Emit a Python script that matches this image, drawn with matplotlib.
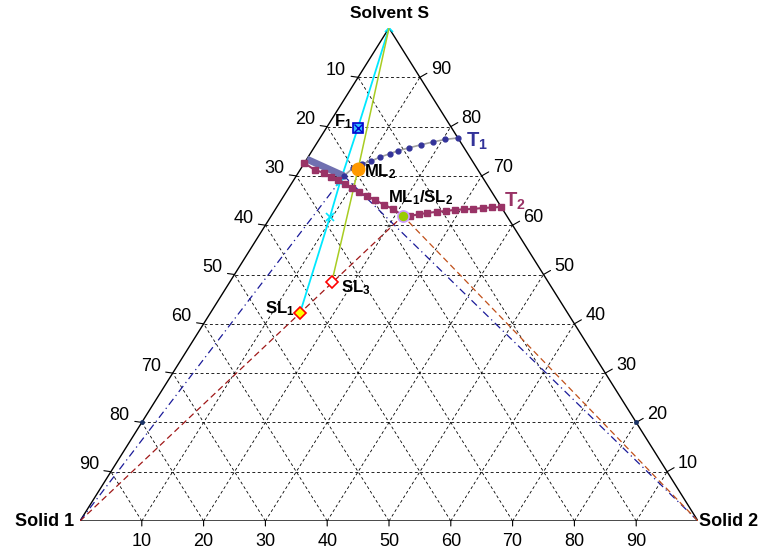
import numpy as np
import matplotlib.pyplot as plt

plt.rcParams['font.family'] = ['Liberation Sans', 'DejaVu Sans']
plt.rcParams['mathtext.fontset'] = 'custom'
plt.rcParams['mathtext.rm'] = 'Liberation Sans'
plt.rcParams['mathtext.bf'] = 'Liberation Sans:bold'

# compositions in % : S = solvent (apex), B = solid 2 (bottom axis)
ticks = [10, 20, 30, 40, 50, 60, 70, 80, 90]

t1_S = [77.7, 77.4, 76.9, 76.3, 75.7, 75.1, 74.5, 73.8, 73.0, 72.4, 71.6, 70.0]
t1_B = [22.3, 20.4, 18.7, 17.0, 15.4, 13.9, 12.9, 11.6, 10.6, 9.4, 8.4, 7.7]
t1_edge_S = [70.0, 73.4]
t1_edge_B = [7.7, 0.0]

t2_S = [72.6, 71.2, 70.6, 69.8, 69.2, 68.4, 67.5, 66.7, 65.9, 65.1, 64.1, 63.3, 61.9,
        61.9, 62.2, 62.5, 62.7, 62.9, 63.1, 63.2, 63.3, 63.5, 63.6, 63.7]
t2_B = [0.0, 2.4, 4.2, 5.7, 7.2, 8.7, 10.2, 11.8, 13.5, 15.2, 17.2, 19.0, 21.3,
        22.4, 23.8, 24.9, 26.4, 27.8, 29.1, 30.5, 31.9, 33.5, 34.9, 36.3]

F1 = (79.7, 5.1)
ML2 = (71.4, 9.3)
ML1_SL2 = (61.9, 21.3)
SL1 = (42.2, 14.5)
SL3 = (48.5, 16.5)
apex = (100.0, 0.0)
cyan_x = [(68.8, 7.7), (61.7, 9.6)]
edge_dots = [(20.0, 0.0), (20.0, 80.0)]
solid1 = (0.0, 0.0)
solid2 = (0.0, 100.0)
t1_corner = (70.0, 7.7)


def tern(S, B):
    S = np.asarray(S, dtype=float)
    B = np.asarray(B, dtype=float)
    return B / 100 + S / 200, S / 100


fig = plt.figure(figsize=(7.63, 5.53), dpi=100)
ax = fig.add_axes([80 / 763, 32 / 553, 618 / 763, 493 / 553])
ax.set_xlim(0, 1)
ax.set_ylim(0, 1)
ax.axis('off')

# grid
gkw = dict(color='black', ls=(0, (3.5, 3)), lw=0.6, zorder=1)
for k in ticks:
    x, y = tern([k, k], [0, 100 - k])
    ax.plot(x, y, **gkw)
    x, y = tern([0, 100 - k], [k, k])
    ax.plot(x, y, **gkw)
    x, y = tern([0, 100 - k], [100 - k, 0])
    ax.plot(x, y, **gkw)

# frame
x, y = tern([0, 0, 100, 0], [0, 100, 0, 0])
ax.plot(x, y, color='black', lw=1, zorder=2)

# ticks and labels
for k in ticks:
    x, y = tern(0, k)
    ax.annotate('', xy=(x, y), xytext=(0, -5), textcoords='offset pixels',
                arrowprops=dict(arrowstyle='-', lw=0.8, shrinkA=0, shrinkB=0))
    ax.annotate(str(k), (x, y), xytext=(0, -20), textcoords='offset pixels',
                ha='center', va='center', fontsize=13)
    x, y = tern(100 - k, 0)
    ax.annotate('', xy=(x, y), xytext=(-7, 1), textcoords='offset pixels',
                arrowprops=dict(arrowstyle='-', lw=0.8, shrinkA=0, shrinkB=0))
    ax.annotate(str(k), (x, y), xytext=(-22, 7), textcoords='offset pixels',
                ha='center', va='center', fontsize=13)
    x, y = tern(k, 100 - k)
    ax.annotate('', xy=(x, y), xytext=(7, 4), textcoords='offset pixels',
                arrowprops=dict(arrowstyle='-', lw=0.8, shrinkA=0, shrinkB=0))
    ax.annotate(str(k), (x, y), xytext=(21, 8), textcoords='offset pixels',
                ha='center', va='center', fontsize=13)

# construction lines
x, y = tern([solid1[0], t1_corner[0]], [solid1[1], t1_corner[1]])
ax.plot(x, y, color='#1a1a99', ls=(0, (6, 3, 1, 3)), lw=0.9, zorder=3)
x, y = tern([solid2[0], t1_corner[0]], [solid2[1], t1_corner[1]])
ax.plot(x, y, color='#1a1a99', ls=(0, (6, 3, 1, 3)), lw=0.9, zorder=3)
x, y = tern([solid1[0], ML1_SL2[0]], [solid1[1], ML1_SL2[1]])
ax.plot(x, y, color='#a01818', ls=(0, (5, 3)), lw=0.9, zorder=3)
x, y = tern([solid2[0], ML1_SL2[0]], [solid2[1], ML1_SL2[1]])
ax.plot(x, y, color='#c0501a', ls=(0, (5, 3)), lw=0.9, zorder=3)

# cyan line apex - F1 - SL1
cx = [apex, F1] + cyan_x + [SL1]
x, y = tern([p[0] for p in cx], [p[1] for p in cx])
ax.plot(x, y, color='#00e8ff', lw=1.3, zorder=4)
mx = [apex] + cyan_x
x, y = tern([p[0] for p in mx], [p[1] for p in mx])
ax.plot(x, y, 'x', color='#00e8ff', ms=6, mew=1.2, zorder=4)

# yellow-green line apex - ML2 - SL3
yg = [apex, ML2, SL3]
x, y = tern([p[0] for p in yg], [p[1] for p in yg])
ax.plot(x, y, color='#a8cc22', lw=1.1, zorder=4)

# T1 curve
x, y = tern(t1_edge_S, t1_edge_B)
ax.plot(x, y, color='#7070b0', lw=5, solid_capstyle='butt', zorder=5)
x, y = tern(t1_S, t1_B)
ax.plot(x, y, color='#a0a0a0', lw=1.2, marker='o', ms=3.5,
        mfc='#333399', mec='#333399', zorder=5)

# T2 curve
x, y = tern(t2_S, t2_B)
ax.plot(x, y, color='#993366', lw=1.5, marker='s', ms=4,
        mfc='#993366', mec='#993366', zorder=5)

x, y = tern([p[0] for p in edge_dots], [p[1] for p in edge_dots])
ax.plot(x, y, 'o', color='#1a3366', ms=2.5, zorder=5)

# points
x, y = tern(*F1)
ax.plot(x, y, 's', ms=7, mfc='#33bbff', mec='#0000cc', mew=1.2, zorder=6)
ax.plot(x, y, 'x', ms=6, color='#0000cc', mew=1, zorder=7)
x, y = tern(*ML2)
ax.plot(x, y, 'o', ms=9, mfc='#ff9900', mec='#ff9900', zorder=6)
x, y = tern(*ML1_SL2)
ax.plot(x, y, 'o', ms=8, mfc='#99cc00', mec='#cc99ff', mew=1.2, zorder=6)
x, y = tern(*SL1)
ax.plot(x, y, 'D', ms=6, mfc='#ffff00', mec='#ff0000', mew=1.2, zorder=6)
x, y = tern(*SL3)
ax.plot(x, y, 'D', ms=6, mfc='white', mec='#ff0000', mew=1.2, zorder=6)

# point labels
lkw = dict(textcoords='offset pixels', fontsize=12, va='center')
ax.annotate(r'$\mathbf{F_1}$', tern(*F1), xytext=(-5, 6), ha='right', **lkw)
ax.annotate(r'$\mathbf{ML_2}$', tern(*ML2), xytext=(6, -3), ha='left', **lkw)
ax.annotate(r'$\mathbf{ML_1/SL_2}$', tern(*ML1_SL2), xytext=(-15, 18), ha='left', **lkw)
ax.annotate(r'$\mathbf{SL_1}$', tern(*SL1), xytext=(-5, 4), ha='right', **lkw)
ax.annotate(r'$\mathbf{SL_3}$', tern(*SL3), xytext=(9, -6), ha='left', **lkw)
ax.annotate(r'$\mathbf{T_1}$', tern(t1_S[0], t1_B[0]), xytext=(8, -3),
            textcoords='offset pixels', fontsize=14.5, va='center', ha='left', color='#333399')
ax.annotate(r'$\mathbf{T_2}$', tern(t2_S[-1], t2_B[-1]), xytext=(3, 6),
            textcoords='offset pixels', fontsize=14.5, va='center', ha='left', color='#993366')

# corner labels
ax.annotate('Solvent S', tern(*apex), xytext=(0, 15), textcoords='offset pixels',
            ha='center', va='center', fontsize=12.5, fontweight='bold')
ax.annotate('Solid 1', tern(*solid1), xytext=(-6, 0), textcoords='offset pixels',
            ha='right', va='center', fontsize=13, fontweight='bold')
ax.annotate('Solid 2', tern(*solid2), xytext=(1, 0), textcoords='offset pixels',
            ha='left', va='center', fontsize=13, fontweight='bold')

fig.savefig('out.png', dpi=100)
